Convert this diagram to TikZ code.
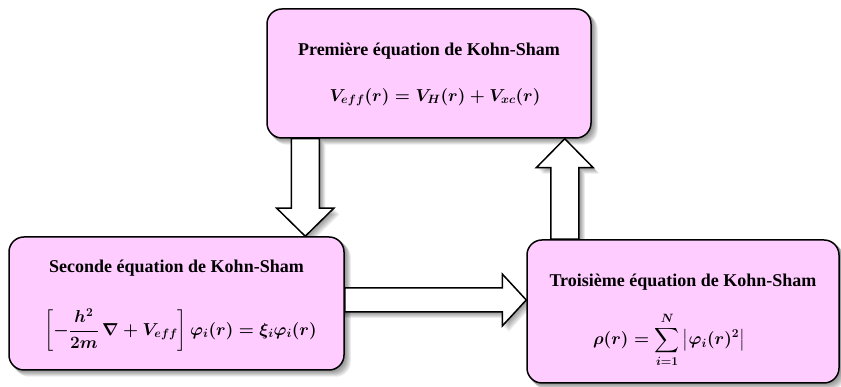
\documentclass[tikz,border=0pt]{standalone}
\usepackage{fontspec}
\setmainfont{Liberation Serif}
\usepackage{amsmath}
\usetikzlibrary{calc,backgrounds}
\definecolor{boxpink}{RGB}{255,204,255}

\begin{document}
\begin{tikzpicture}[x=1pt, y=1pt,
  eqbox/.style={draw, line width=1.5pt, rounded corners=15pt, fill=boxpink, inner sep=0pt},
  eqtitle/.style={font=\fontsize{18}{22}\selectfont\bfseries, inner sep=0pt},
  eqtext/.style={font=\fontsize{18}{22}\selectfont\boldmath, inner sep=0pt},
  hollow/.style={draw, line width=1.5pt, fill=white, line join=miter},
  shade/.style={fill=black, opacity=0.08}]
  \useasboundingbox (0,0) rectangle (841,387);

  % the three Kohn-Sham equations
  \node[eqbox, minimum width=324pt, minimum height=129pt] (first) at (429,313.5) {};
  \node[eqtitle] (firsttitle) at ([yshift=22.5pt]first.center) {Première équation de Kohn-Sham};
  \node[eqtext] (firsteq) at ([shift={(6pt,-23.5pt)}]first.center) {$V_{eff}(r)=V_H(r)+V_{xc}(r)$};

  \node[eqbox, minimum width=335pt, minimum height=133pt] (second) at (176.5,83.5) {};
  \node[eqtitle] (secondtitle) at ([yshift=35.5pt]second.center) {Seconde équation de Kohn-Sham};
  \node[eqtext] (secondeq) at ([shift={(4pt,-26.5pt)}]second.center) {$\left[-\dfrac{h^2}{2m}\,\nabla+V_{eff}\right]\varphi_i(r)=\xi_i\varphi_i(r)$};

  \node[eqbox, minimum width=312pt, minimum height=143pt] (third) at (683,75.5) {};
  \node[eqtitle] (thirdtitle) at ([yshift=29.5pt]third.center) {Troisième équation de Kohn-Sham};
  \node[eqtext] (thirdeq) at ([shift={(-14pt,-28.5pt)}]third.center) {$\displaystyle\rho(r)=\sum_{i=1}^{N}\left|\varphi_i(r)^2\right|$};

  % block arrows
  \coordinate (d1) at ([xshift=39pt]first.south west);
  \coordinate (d2) at (d1 |- second.north);
  \coordinate (u1) at ([xshift=-27pt]first.south east);
  \coordinate (u2) at (u1 |- third.north);
  \coordinate (r1) at ([yshift=3.5pt]second.east);
  \coordinate (r2) at (r1 -| third.west);

  \draw[hollow] ($(d1)+(-14,0)$) -- ($(d2)+(-14,28)$) -- ($(d2)+(-28.5,28)$) -- (d2)
    -- ($(d2)+(28.5,28)$) -- ($(d2)+(14,28)$) -- ($(d1)+(14,0)$) -- cycle;
  \draw[hollow] ($(u2)+(-14,0)$) -- ($(u1)+(-14,-29)$) -- ($(u1)+(-28.5,-29)$) -- (u1)
    -- ($(u1)+(28.5,-29)$) -- ($(u1)+(14,-29)$) -- ($(u2)+(14,0)$) -- cycle;
  \draw[hollow] ($(r1)+(0,12)$) -- ($(r2)+(-24,12)$) -- ($(r2)+(-24,26)$) -- (r2)
    -- ($(r2)+(-24,-26)$) -- ($(r2)+(-24,-12)$) -- ($(r1)+(0,-12)$) -- cycle;

  % soft shadows
  \begin{pgfonlayer}{background}
    \foreach \s in {1,...,6} {
      \foreach \b in {first,second,third}
        \fill[shade, rounded corners=15pt] ([shift={(\s,-\s)}]\b.south west) rectangle ([shift={(\s,-\s)}]\b.north east);
      \fill[shade] ($(d1)+(-14+\s,-\s)$) -- ($(d2)+(-14+\s,28-\s)$) -- ($(d2)+(-28.5+\s,28-\s)$) -- ($(d2)+(\s,-\s)$)
        -- ($(d2)+(28.5+\s,28-\s)$) -- ($(d2)+(14+\s,28-\s)$) -- ($(d1)+(14+\s,-\s)$) -- cycle;
      \fill[shade] ($(u2)+(-14+\s,-\s)$) -- ($(u1)+(-14+\s,-29-\s)$) -- ($(u1)+(-28.5+\s,-29-\s)$) -- ($(u1)+(\s,-\s)$)
        -- ($(u1)+(28.5+\s,-29-\s)$) -- ($(u1)+(14+\s,-29-\s)$) -- ($(u2)+(14+\s,-\s)$) -- cycle;
      \fill[shade] ($(r1)+(0,12-\s)$) -- ($(r2)+(-24+\s,12-\s)$) -- ($(r2)+(-24+\s,26-\s)$) -- ($(r2)+(\s,-\s)$)
        -- ($(r2)+(-24+\s,-26-\s)$) -- ($(r2)+(-24+\s,-12-\s)$) -- ($(r1)+(0,-12-\s)$) -- cycle;
    }
  \end{pgfonlayer}
\end{tikzpicture}
\end{document}
